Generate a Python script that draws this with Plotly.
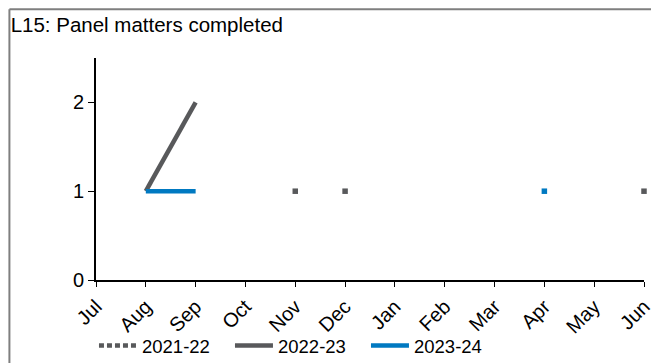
import plotly.graph_objects as go

months = ["Jul", "Aug", "Sep", "Oct", "Nov", "Dec", "Jan", "Feb", "Mar", "Apr", "May", "Jun"]
fy_2021_22 = [None, None, None, None, 1, 1, None, None, None, None, None, 1]
fy_2022_23 = [None, 1, 2, None, None, None, None, None, None, None, None, None]
fy_2023_24 = [None, 1, 1, None, None, None, None, None, None, 1, None, None]

GREY = "#58595B"
BLUE = "#0079C1"
FONT = "Liberation Sans, Arial, sans-serif"

# (name, values, colour, dash, draw connecting line?)
series = [
    ("2021-22", fy_2021_22, GREY, "5px,3px", False),
    ("2022-23", fy_2022_23, GREY, "solid", True),
    ("2023-24", fy_2023_24, BLUE, "solid", True),
]


def isolated(vals):
    """Points with no neighbour on either side: a line can't show them."""
    out = []
    for i, v in enumerate(vals):
        left = vals[i - 1] if i > 0 else None
        right = vals[i + 1] if i < len(vals) - 1 else None
        out.append(v if v is not None and left is None and right is None else None)
    return out


fig = go.Figure()
for name, vals, color, dash, joined in series:
    # legend entry / line part
    fig.add_trace(
        go.Scatter(
            x=months,
            y=vals if joined else [None] * len(vals),
            name=name,
            mode="lines",
            line=dict(color=color, width=4.5, dash=dash),
            connectgaps=False,
            legendgroup=name,
        )
    )
    fig.add_trace(
        go.Scatter(
            x=months,
            y=isolated(vals) if joined else vals,
            mode="markers",
            marker=dict(color=color, symbol="square", size=5.5, line_width=0),
            showlegend=False,
            legendgroup=name,
            hoverinfo="skip",
            cliponaxis=False,
        )
    )

# the page body adds 8px of margin, so the figure sits 8px right/down
fig.update_layout(
    width=659,
    height=363,
    margin=dict(l=88, r=23, t=50, b=91, autoexpand=False),
    paper_bgcolor="white",
    plot_bgcolor="white",
    font=dict(family=FONT, size=20, color="black"),
    title=dict(
        text="L15: Panel matters completed",
        xref="container",
        x=0.004,
        xanchor="left",
        y=0.953,
        yanchor="middle",
        font=dict(size=20.5),
    ),
    xaxis=dict(
        type="category",
        range=[0, 11],
        automargin=False,
        showline=True,
        linecolor="black",
        linewidth=2,
        ticks="outside",
        ticklen=5,
        tickcolor="black",
        tickangle=-45,
        showgrid=False,
        zeroline=False,
        tickfont=dict(size=20),
    ),
    yaxis=dict(
        range=[0, 2.5],
        tickvals=[0, 1, 2],
        automargin=False,
        showline=True,
        linecolor="black",
        linewidth=2,
        ticks="outside",
        ticklen=6,
        tickcolor="black",
        showgrid=False,
        zeroline=False,
        tickfont=dict(size=20),
    ),
    legend=dict(
        orientation="h",
        x=-0.0037,
        xanchor="left",
        y=-0.297,
        yanchor="middle",
        itemwidth=38,
        entrywidth=83,
        entrywidthmode="pixels",
        font=dict(size=18.5),
        bgcolor="rgba(0,0,0,0)",
    ),
    showlegend=True,
)

# outer frame of the panel (top and left edges)
fig.add_shape(type="line", xref="paper", yref="paper",
              x0=-0.158, x1=1.1, y0=1.22, y1=1.22,
              line=dict(color="#7F7F7F", width=2))
fig.add_shape(type="line", xref="paper", yref="paper",
              x0=-0.158, x1=-0.158, y0=1.22, y1=-0.5,
              line=dict(color="#7F7F7F", width=2))

fig.write_html("out.html")
